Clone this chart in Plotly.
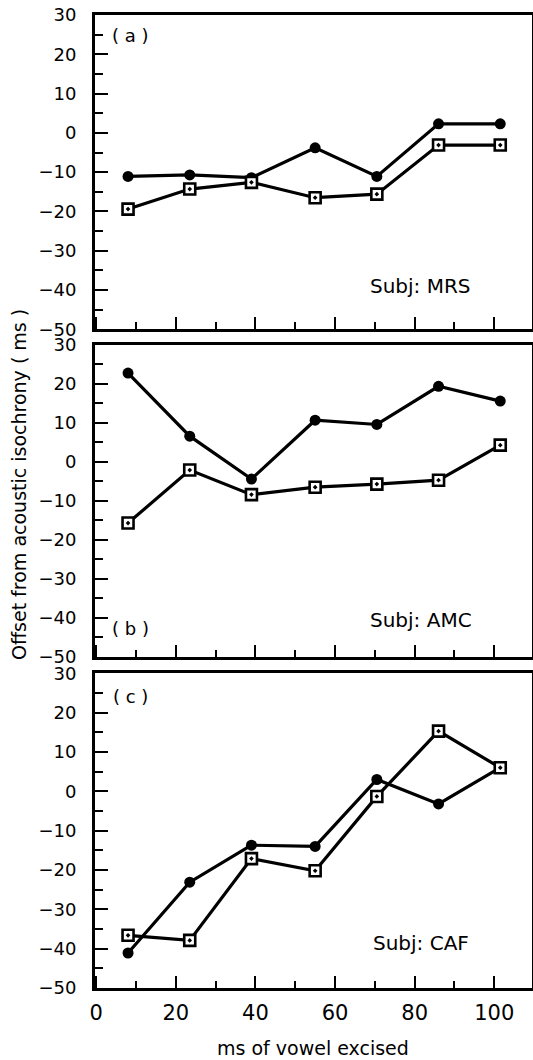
import plotly.graph_objects as go
from plotly.subplots import make_subplots

# ms of vowel excised
x_ms = [8, 23.5, 39, 55, 70.5, 86, 101.5]

# Panel (a) Subj: MRS
a_circle = [-11.1, -10.7, -11.4, -3.8, -11.1, 2.3, 2.3]
a_square = [-19.4, -14.3, -12.6, -16.5, -15.6, -3.1, -3.1]
# Panel (b) Subj: AMC
b_circle = [22.8, 6.6, -4.4, 10.7, 9.6, 19.4, 15.6]
b_square = [-15.7, -2.1, -8.4, -6.5, -5.7, -4.7, 4.3]
# Panel (c) Subj: CAF
c_circle = [-41.1, -23.1, -13.7, -14.0, 3.0, -3.2, 6.0]
c_square = [-36.6, -37.9, -17.1, -20.2, -1.3, 15.3, 6.0]

panels = [("( a )", "Subj: MRS", a_circle, a_square, 24.9),
          ("( b )", "Subj: AMC", b_circle, b_square, -42.7),
          ("( c )", "Subj: CAF", c_circle, c_square, 24.2)]
subj_y = [-39.0, -40.6, -38.6]

FONT = "DejaVu Sans"
W, H = 533, 1060

fig = make_subplots(rows=3, cols=1)

for i, (lab, subj, circ, sq, laby) in enumerate(panels, start=1):
    fig.add_trace(go.Scatter(x=x_ms, y=circ, mode="lines+markers",
                             line=dict(color="black", width=3.2),
                             marker=dict(symbol="circle", size=11, color="black"),
                             showlegend=False), row=i, col=1)
    fig.add_trace(go.Scatter(x=x_ms, y=sq, mode="lines+markers",
                             line=dict(color="black", width=3.2),
                             marker=dict(symbol="square-dot", size=11, color="white",
                                         line=dict(color="black", width=2.6)),
                             showlegend=False), row=i, col=1)
    xr = "x" if i == 1 else f"x{i}"
    yr = "y" if i == 1 else f"y{i}"
    fig.add_annotation(x=8.5, y=laby, xref=xr, yref=yr, text=lab, showarrow=False,
                       font=dict(family=FONT, size=18, color="black"))
    fig.add_annotation(x=81.5, y=subj_y[i - 1], xref=xr, yref=yr, text=subj, showarrow=False,
                       font=dict(family=FONT, size=20, color="black"))

# domains in pixels (top, bottom)
pix = [(15, 329.3), (345, 656.7), (673.3, 988)]
xdom = [95 / W, 531.7 / W]

for i, (top, bot) in enumerate(pix, start=1):
    fig.update_yaxes(row=i, col=1, domain=[1 - bot / H, 1 - top / H],
                     range=[-50, 30], dtick=10, tick0=0, automargin=False,
                     ticks="inside", ticklen=13, tickwidth=2.2, tickcolor="black",
                     minor=dict(dtick=5, ticks="inside", ticklen=8, tickwidth=2.2, tickcolor="black"),
                     showline=True, linewidth=3, linecolor="black", mirror=True,
                     showgrid=False, zeroline=False, ticklabelstandoff=12,
                     tickfont=dict(family=FONT, size=18, color="black"))
    fig.update_xaxes(row=i, col=1, domain=xdom, automargin=False,
                     range=[-0.3, 109.4], dtick=20, tick0=0,
                     ticks="inside", ticklen=12, tickwidth=2.2, tickcolor="black",
                     minor=dict(dtick=10, ticks="inside", ticklen=7, tickwidth=2.2, tickcolor="black"),
                     showline=True, linewidth=3, linecolor="black", mirror=True,
                     showgrid=False, zeroline=False, showticklabels=(i == 3),
                     ticklabelstandoff=4,
                     tickfont=dict(family=FONT, size=21, color="black"))

fig.add_annotation(x=19 / W, y=1 - 485 / H, xref="paper", yref="paper",
                   xanchor="center", yanchor="middle",
                   text="Offset from acoustic isochrony ( ms )", textangle=-90,
                   showarrow=False, font=dict(family=FONT, size=19, color="black"))
fig.add_annotation(x=313 / W, y=1 - 1048 / H, xref="paper", yref="paper",
                   xanchor="center", yanchor="middle",
                   text="ms of vowel excised", showarrow=False,
                   font=dict(family=FONT, size=19, color="black"))

fig.update_layout(width=W, height=H, margin=dict(l=0, r=0, t=0, b=0),
                  paper_bgcolor="white", plot_bgcolor="white",
                  font=dict(family=FONT, color="black"))

fig.write_html("out.html", config={"displayModeBar": False},
               post_script="document.body.style.margin='0';document.body.style.overflow='hidden';")
